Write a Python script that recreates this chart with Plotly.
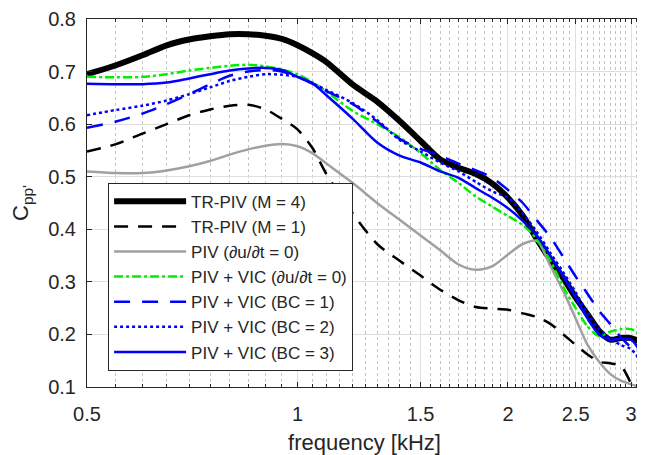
import numpy as np
import plotly.graph_objects as go

freq = [0.5, 0.55, 0.6, 0.65, 0.7, 0.75, 0.8, 0.85, 0.9, 0.95, 1.0, 1.05, 1.1, 1.2, 1.3, 1.4, 1.5,
        1.6, 1.7, 1.8, 1.9, 2.0, 2.1, 2.2, 2.3, 2.4, 2.5, 2.6, 2.7, 2.8, 2.9, 3.0, 3.1]

tr_m4 = [0.695, 0.712, 0.731, 0.75, 0.761, 0.767, 0.771, 0.771, 0.768, 0.762, 0.75, 0.735, 0.718,
         0.675, 0.643, 0.606, 0.568, 0.533, 0.517, 0.505, 0.487, 0.46, 0.426, 0.381, 0.342, 0.307,
         0.27, 0.238, 0.207, 0.19, 0.193, 0.193, 0.185]
tr_m1 = [0.548, 0.562, 0.582, 0.6, 0.617, 0.628, 0.635, 0.637, 0.628, 0.61, 0.59, 0.555, 0.505,
         0.43, 0.372, 0.34, 0.312, 0.285, 0.265, 0.252, 0.249, 0.247, 0.24, 0.233, 0.22, 0.2,
         0.18, 0.162, 0.148, 0.145, 0.14, 0.106, None]
piv = [0.51, 0.507, 0.507, 0.512, 0.52, 0.53, 0.542, 0.552, 0.559, 0.562, 0.558, 0.545, 0.525,
       0.488, 0.45, 0.418, 0.388, 0.36, 0.333, 0.323, 0.33, 0.352, 0.372, 0.378, 0.33, 0.282,
       0.23, 0.18, 0.148, 0.125, 0.112, 0.105, 0.1]
vic_dudt = [0.69, 0.689, 0.69, 0.695, 0.702, 0.707, 0.711, 0.713, 0.71, 0.704, 0.695, 0.68, 0.662,
            0.625, 0.6, 0.575, 0.545, 0.513, 0.488, 0.462, 0.443, 0.425, 0.408, 0.381, 0.34, 0.29,
            0.25, 0.215, 0.197, 0.205, 0.21, 0.21, 0.198]
vic_bc1 = [0.593, 0.605, 0.62, 0.638, 0.657, 0.676, 0.692, 0.7, 0.703, 0.7, 0.69, 0.677, 0.663,
           0.638, 0.605, 0.572, 0.553, 0.54, 0.525, 0.512, 0.498, 0.475, 0.45, 0.417, 0.385, 0.347,
           0.31, 0.277, 0.245, 0.22, 0.195, 0.175, 0.157]
vic_bc2 = [0.617, 0.627, 0.635, 0.645, 0.657, 0.67, 0.682, 0.69, 0.695, 0.694, 0.69, 0.678, 0.665,
           0.64, 0.608, 0.57, 0.548, 0.527, 0.51, 0.49, 0.472, 0.46, 0.43, 0.395, 0.355, 0.318,
           0.28, 0.24, 0.21, 0.192, 0.18, 0.172, 0.148]
vic_bc3 = [0.677, 0.676, 0.676, 0.679, 0.687, 0.695, 0.702, 0.706, 0.707, 0.703, 0.69, 0.678, 0.655,
           0.61, 0.565, 0.54, 0.527, 0.51, 0.498, 0.478, 0.46, 0.44, 0.416, 0.388, 0.35, 0.31,
           0.27, 0.23, 0.2, 0.19, 0.192, 0.19, 0.165]

x_ticks = [0.5, 1, 1.5, 2, 2.5, 3]
x_ticklabels = ["0.5", "1", "1.5", "2", "2.5", "3"]
y_ticks = [0.1, 0.2, 0.3, 0.4, 0.5, 0.6, 0.7, 0.8]
minor_x = [round(0.55 + 0.05 * i, 2) for i in range(52)]
minor_x = [v for v in minor_x if v <= 3.11 and v not in x_ticks]

series = [
    ("TR-PIV (M = 4)", tr_m4, "black", 6, "solid"),
    ("TR-PIV (M = 1)", tr_m1, "black", 2.5, "14px,10px"),
    ("PIV (∂u/∂t = 0)", piv, "#a0a0a0", 2.5, "solid"),
    ("PIV + VIC (∂u/∂t = 0)", vic_dudt, "#00ee00", 2.5, "dashdot"),
    ("PIV + VIC (BC = 1)", vic_bc1, "#0000ff", 2.5, "16px,12px"),
    ("PIV + VIC (BC = 2)", vic_bc2, "#0000ff", 2.5, "dot"),
    ("PIV + VIC (BC = 3)", vic_bc3, "#0000ff", 2.5, "solid"),
]

fig = go.Figure()
for name, ys, color, w, dash in series:
    fig.add_trace(go.Scatter(x=freq, y=ys, mode="lines", name=name, connectgaps=False,
                             line=dict(color=color, width=w, dash=dash, shape="spline", smoothing=0.8)))

fam = "Liberation Sans, Arial, sans-serif"
# the page body adds an 8px offset, so the figure is 8px smaller and margins shifted
fig.update_layout(
    template="none",
    width=637, height=447,
    margin=dict(l=79, r=3, t=11, b=68, autoexpand=False),
    paper_bgcolor="white", plot_bgcolor="white",
    font=dict(family=fam, size=20, color="#262626"),
    showlegend=True,
    legend=dict(x=0.038, y=0.555, xanchor="left", yanchor="top",
                bgcolor="white", bordercolor="#262626", borderwidth=1,
                font=dict(family=fam, size=17, color="#262626"),
                tracegroupgap=0, itemwidth=72),
    xaxis=dict(type="log", range=[np.log10(0.5), np.log10(3.11)], automargin=False,
               tickmode="array", tickvals=x_ticks, ticktext=x_ticklabels,
               tickfont=dict(family=fam, size=20, color="#262626"),
               showgrid=True, gridcolor="#dedede", gridwidth=1,
               showline=True, linecolor="#262626", linewidth=1, mirror="allticks",
               ticks="inside", ticklen=5, tickcolor="#262626", ticklabelstandoff=9,
               ticklabeloverflow="allow",
               minor=dict(tickmode="array", tickvals=minor_x, showgrid=True,
                          gridcolor="#c4c4c4", griddash="dot", gridwidth=1,
                          ticks="inside", ticklen=3, tickcolor="#262626"),
               title=dict(text="frequency [kHz]", standoff=10,
                          font=dict(family=fam, size=22, color="#262626")),
               zeroline=False),
    yaxis=dict(range=[0.1, 0.8], automargin=False, tickmode="array", tickvals=y_ticks,
               ticktext=[f"{v:.1f}" for v in y_ticks],
               tickfont=dict(family=fam, size=20, color="#262626"),
               showgrid=True, gridcolor="#dedede", gridwidth=1,
               showline=True, linecolor="#262626", linewidth=1, mirror="allticks",
               ticks="inside", ticklen=5, tickcolor="#262626", ticklabelstandoff=6,
               ticklabeloverflow="allow",
               title=dict(text="C<sub>pp'</sub>", standoff=16,
                          font=dict(family=fam, size=22, color="#262626")),
               zeroline=False),
)

fig.write_html("out.html")
